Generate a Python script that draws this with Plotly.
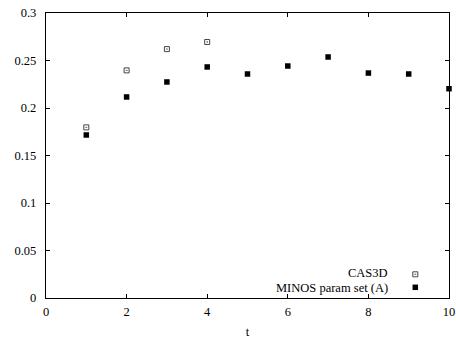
import plotly.graph_objects as go

cas3d_t = [1, 2, 3, 4]
cas3d_v = [0.1796, 0.2396, 0.2620, 0.2695]
minos_t = [1, 2, 3, 4, 5, 6, 7, 8, 9, 10]
minos_v = [0.1716, 0.2116, 0.2274, 0.2432, 0.2358, 0.2442, 0.2537, 0.2368, 0.2358, 0.2203]
legend_labels = ["CAS3D", "MINOS param set (A)"]
y_ticks = [0, 0.05, 0.1, 0.15, 0.2, 0.25, 0.3]
y_ticktext = ["0", "0.05", "0.1", "0.15", "0.2", "0.25", "0.3"]

FAM = "Liberation Serif, Times New Roman, serif"
font = dict(family=FAM, size=12.5, color="black")

fig = go.Figure()
fig.add_trace(go.Scatter(x=cas3d_t, y=cas3d_v, mode="markers", name=legend_labels[0],
                         marker=dict(symbol="square-open-dot", size=5, color="#444444",
                                     line=dict(width=1, color="#444444")),
                         cliponaxis=False))
fig.add_trace(go.Scatter(x=minos_t, y=minos_v, mode="markers", name=legend_labels[1],
                         marker=dict(symbol="square", size=5.5, color="black"),
                         cliponaxis=False))

axis_common = dict(showgrid=False, zeroline=False, showline=True, linecolor="black",
                   linewidth=1, mirror="allticks", ticks="inside", ticklen=4,
                   tickcolor="black", tickfont=font, automargin=False)

fig.update_layout(
    width=456, height=339,
    margin=dict(l=46, r=7, t=13, b=41),
    paper_bgcolor="white", plot_bgcolor="white",
    showlegend=False,
    font=font,
    xaxis=dict(range=[0, 10], tickvals=[0, 2, 4, 6, 8, 10], ticklabelstandoff=2,
               title=dict(text="t", font=font, standoff=12), **axis_common),
    yaxis=dict(range=[0, 0.3], tickvals=y_ticks,
               ticktext=[t + "\u00a0\u00a0" for t in y_ticktext], **axis_common),
)

# legend drawn as annotations (text right-aligned, key to the right)
leg_y = [273.3, 288.0]
for lab, yy in zip(legend_labels, leg_y):
    ypaper = (339 - 41 - yy) / (339 - 13 - 41)
    fig.add_annotation(x=(389 - 46) / 403, y=ypaper, xref="paper", yref="paper",
                       text=lab, showarrow=False, xanchor="right", yanchor="middle",
                       borderpad=0, font=dict(family=FAM, size=12.5, color="black"))
sym_x = (415.3 - 46) / 403
for tr, yy in zip(fig.data, [274.3, 287.3]):
    ypaper = (339 - 41 - yy) / (339 - 13 - 41)
    fig.add_trace(go.Scatter(x=[sym_x], y=[ypaper], xaxis="x2", yaxis="y2", mode="markers",
                             marker=tr.marker, showlegend=False, hoverinfo="skip"))
fig.update_layout(
    xaxis2=dict(range=[0, 1], overlaying="x", visible=False),
    yaxis2=dict(range=[0, 1], overlaying="y", visible=False),
)

fig.write_html("out.html")
